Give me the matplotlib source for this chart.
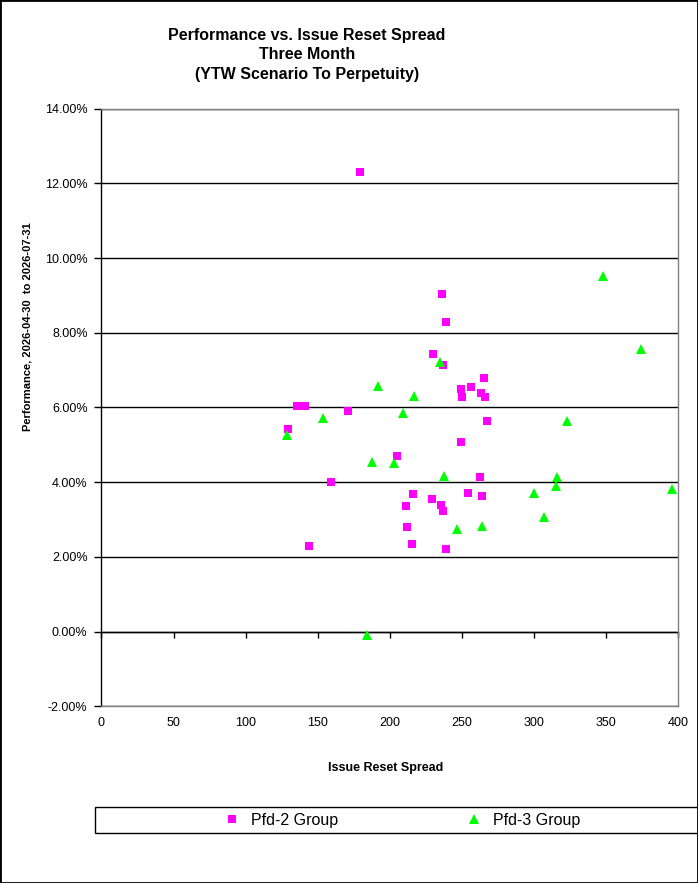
import matplotlib
matplotlib.use('Agg')
import matplotlib.pyplot as plt
from matplotlib.patches import Rectangle
from matplotlib.ticker import FuncFormatter

# Pfd-2 group (issue reset spread, 3-month performance in %)
pfd2_spread = [179.5, 236.3, 239.1, 230.1, 237.0, 265.5, 249.5, 256.4, 263.4, 250.2,
               265.7, 267.5, 135.4, 140.9, 171.2, 129.5, 249.5, 204.7, 262.7, 159.4,
               216.2, 229.4, 254.4, 264.1, 211.5, 235.6, 236.5, 212.2, 144.1, 215.5,
               239.1]
pfd2_perf = [12.29, 9.03, 8.28, 7.42, 7.13, 6.78, 6.49, 6.55, 6.38, 6.28,
             6.27, 5.63, 6.03, 6.03, 5.90, 5.41, 5.07, 4.70, 4.13, 3.99,
             3.67, 3.56, 3.70, 3.62, 3.35, 3.38, 3.24, 2.79, 2.29, 2.33,
             2.22]

# Pfd-3 group
pfd3_spread = [128.4, 153.8, 192.0, 348.0, 374.3, 234.9, 216.9, 209.3, 323.0, 187.8,
               202.8, 237.7, 316.1, 315.4, 395.8, 300.1, 307.1, 246.7, 264.1, 184.1]
pfd3_perf = [5.26, 5.71, 6.58, 9.53, 7.57, 7.22, 6.31, 5.84, 5.64, 4.53,
             4.50, 4.16, 4.14, 3.90, 3.81, 3.72, 3.07, 2.75, 2.82, -0.10]

x_ticks = [0, 50, 100, 150, 200, 250, 300, 350, 400]
y_ticks = [-2, 0, 2, 4, 6, 8, 10, 12, 14]

title = 'Performance vs. Issue Reset Spread\nThree Month\n(YTW Scenario To Perpetuity)'
x_title = 'Issue Reset Spread'
y_title = 'Performance, 2026-04-30  to 2026-07-31'

plt.rcParams['font.family'] = ['Liberation Sans', 'DejaVu Sans']

fig = plt.figure(figsize=(6.98, 8.83), dpi=100)
ax = fig.add_axes([0.1454, 0.2002, 0.8264, 0.6768])

ax.plot(pfd2_spread, pfd2_perf, 's', color='#FF00FF', markersize=6.3,
        markeredgewidth=0, label='Pfd-2 Group', zorder=3)
ax.plot(pfd3_spread, pfd3_perf, '^', color='#00FF00', markersize=6.5,
        markeredgewidth=0, label='Pfd-3 Group', zorder=3)

ax.set_xlim(0, 400)
ax.set_ylim(-2, 14)
ax.set_xticks(x_ticks)
ax.set_yticks(y_ticks)
ax.yaxis.set_major_formatter(FuncFormatter(lambda v, p: '{:.2f}%'.format(v)))

ax.set_axisbelow(True)
ax.yaxis.grid(True, color='black', linewidth=1)
for s in ['top', 'right', 'bottom']:
    ax.spines[s].set_color('#808080')
ax.spines['left'].set_color('black')
for s in ax.spines.values():
    s.set_linewidth(1)

ax.tick_params(axis='x', length=0, pad=8, labelsize=9)
ax.tick_params(axis='y', length=5, width=1, direction='out', pad=5, labelsize=9)

# x axis crosses at 0%
sec = ax.secondary_xaxis(0, transform=ax.transData)
sec.set_xticks(x_ticks)
sec.set_xticklabels([])
sec.tick_params(axis='x', length=4, width=1, direction='out')
sec.spines['bottom'].set_color('black')
sec.spines['bottom'].set_linewidth(1)

fig.text(0.44, 0.968, title, ha='center', va='top', fontsize=11.5,
         fontweight='bold', linespacing=1.35)
fig.text(0.553, 0.1305, x_title, ha='center', va='center', fontsize=9,
         fontweight='bold')
fig.text(0.04, 0.63, y_title, ha='center', va='center', rotation=90,
         fontsize=8, fontweight='bold')

# legend box
fig.add_artist(Rectangle((95 / 698, 1 - 833 / 883), 610 / 698, 26 / 883,
                         transform=fig.transFigure, fill=False,
                         edgecolor='black', linewidth=1))
fig.legend(loc='center', bbox_to_anchor=(0.5705, 1 - 820 / 883), ncol=2,
           frameon=False, fontsize=11.5, handletextpad=0.2, columnspacing=7.5,
           markerscale=1.0)

fig.add_artist(Rectangle((0, 0), 1, 1, transform=fig.transFigure, fill=False,
                         edgecolor='black', linewidth=2))

fig.savefig('out.png', dpi=100)
